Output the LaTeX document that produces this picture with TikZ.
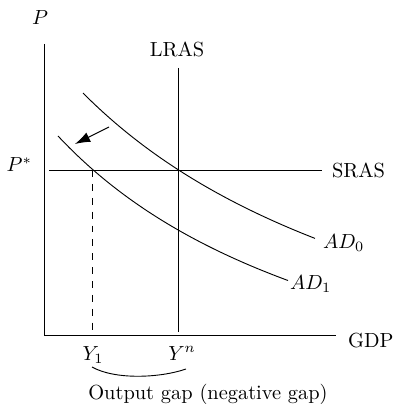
\documentclass[tikz,border=0pt]{standalone}
\usetikzlibrary{arrows.meta}
\begin{document}
\begin{tikzpicture}[x=0.49pt,y=-0.49pt,
  axisline/.style={line width=0.45pt},
  curveline/.style={line width=0.45pt},
  lbl/.style={inner sep=0pt,outer sep=0pt},
  shiftarrow/.style={line width=0.45pt,-{Latex[length=7.4pt,width=5pt]}}]
\useasboundingbox (0,0) rectangle (395,404);
% axes
\coordinate (O) at (44,335);
\coordinate (ytop) at (44,44);
\coordinate (xend) at (336,335);
\draw[axisline] (ytop) -- (O) -- (xend);
\node[lbl,anchor=base] (P) at (40,25) {$P$};
\node[lbl,anchor=base west] (GDP) at (348,347) {GDP};
% LRAS
\coordinate (lrasT) at (178,68);
\coordinate (lrasB) at (178,332);
\draw[axisline] (lrasT) -- (lrasB);
\node[lbl,anchor=base] (LRAS) at (177,57) {LRAS};
% SRAS
\coordinate (srasL) at (49,170);
\coordinate (srasR) at (322,170);
\draw[axisline] (srasL) -- (srasR);
\node[lbl,anchor=base west] (SRAS) at (332,178) {SRAS};
\node[lbl,anchor=base east] (Pstar) at (32,172) {$P^*$};
% AD curves
\draw[curveline] plot[domain=83:315,samples=60] (\x,{478.4-1476/((\x+300)/100)});
\draw[curveline] plot[domain=58:288,samples=60] (\x,{486.6-1150/((\x+270)/100)});
\node[lbl,anchor=base west] (AD0) at (323,248) {$AD_0$};
\node[lbl,anchor=base west] (AD1) at (290,289) {$AD_1$};
% shift arrow
\coordinate (arrT) at (109,127);
\coordinate (arrH) at (75,144);
\draw[shiftarrow] (arrT) -- (arrH);
% dashed
\coordinate (dT) at (92,170);
\coordinate (dB) at (92,332);
\draw[axisline,dashed,dash pattern=on 3.4pt off 3.4pt] (dT) -- (dB);
\node[lbl,anchor=base] (Y1) at (93,360) {$Y_1$};
\node[lbl,anchor=base] (Yn) at (182,360) {$Y^n$};
% gap brace
\coordinate (gL) at (92,367);
\coordinate (gR) at (186,369);
\draw[curveline] (gL) .. controls (115,380) and (160,378) .. (gR);
\node[lbl,anchor=base] (gap) at (208,399) {Output gap (negative gap)};
\end{tikzpicture}
\end{document}
